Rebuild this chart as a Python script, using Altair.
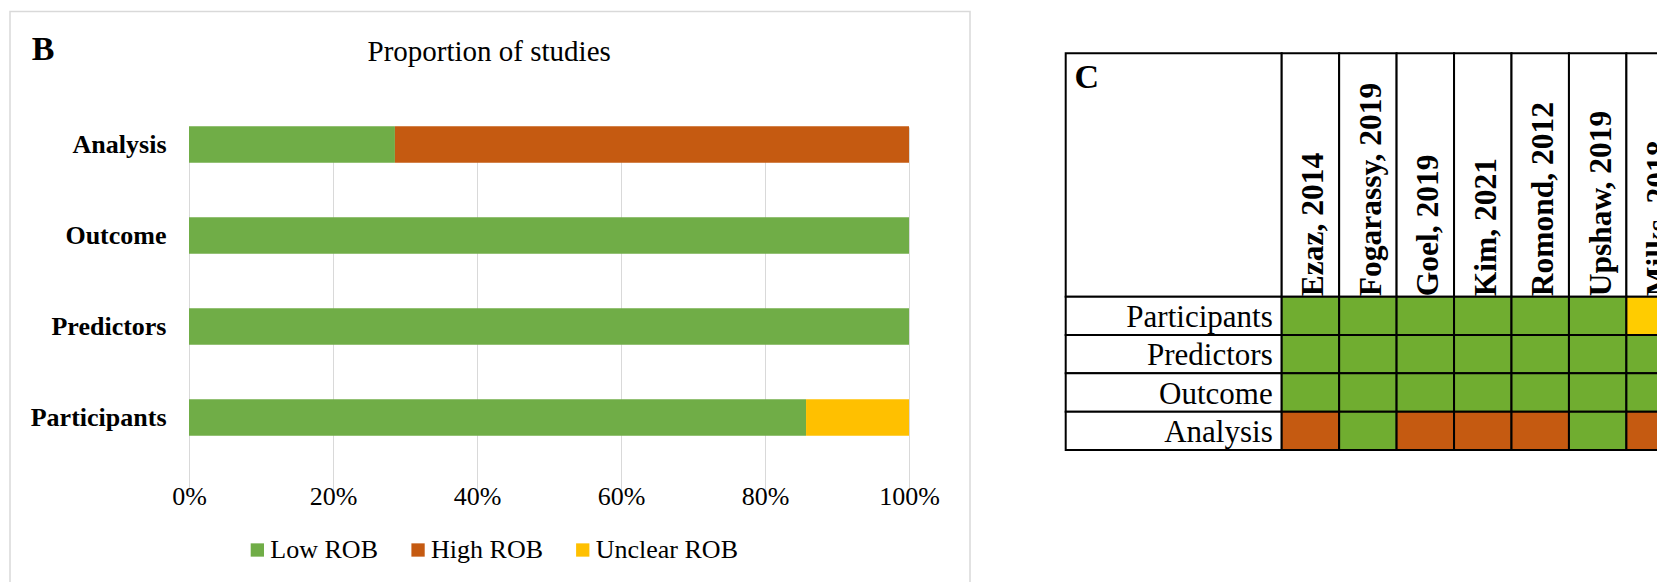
import altair as alt
import pandas as pd

SERIF = "Liberation Serif"

# ---------------- Panel B : proportion of studies ----------------
b_domains = ["Analysis", "Outcome", "Predictors", "Participants"]
rob_levels = ["Low ROB", "High ROB", "Unclear ROB"]
b_low = [0.286, 1.0, 1.0, 0.857]
b_high = [0.714, 0.0, 0.0, 0.0]
b_unclear = [0.0, 0.0, 0.0, 0.143]
x_ticks = [0, 0.2, 0.4, 0.6, 0.8, 1.0]
b_colors = ["#70AD47", "#C55A11", "#FFC000"]

# ---------------- Panel C : per-study table ----------------
studies = ["Ezaz, 2014", "Fogarassy, 2019", "Goel, 2019", "Kim, 2021",
           "Romond, 2012", "Upshaw, 2019", "Milks, 2018"]
c_rows = ["Participants", "Predictors", "Outcome", "Analysis"]
c_participants = ["Low ROB", "Low ROB", "Low ROB", "Low ROB", "Low ROB", "Low ROB", "Unclear ROB"]
c_predictors = ["Low ROB", "Low ROB", "Low ROB", "Low ROB", "Low ROB", "Low ROB", "Low ROB"]
c_outcome = ["Low ROB", "Low ROB", "Low ROB", "Low ROB", "Low ROB", "Low ROB", "Low ROB"]
c_analysis = ["High ROB", "Low ROB", "High ROB", "High ROB", "High ROB", "Low ROB", "High ROB"]
c_colors = ["#70AD30", "#C55A11", "#FFCC00"]

panel_letters = ["B", "C"]
b_title = ["Proportion of studies"]

# ---------------- tables built from the arrays ----------------
b_rows = []
for i, d in enumerate(b_domains):
    for k, (lvl, vals) in enumerate(zip(rob_levels, [b_low, b_high, b_unclear])):
        if vals[i] > 0:
            b_rows.append({"domain": d, "rating": lvl, "value": vals[i], "order": k})
b_df = pd.DataFrame(b_rows)

c_data = {"Participants": c_participants, "Predictors": c_predictors,
          "Outcome": c_outcome, "Analysis": c_analysis}
c_df = pd.DataFrame([{"row": r, "study": s, "rating": c_data[r][j]}
                     for r in c_rows for j, s in enumerate(studies)])

W, H = 1649, 574

# ---------------- panel B layers ----------------
frame = alt.Chart(pd.DataFrame({"k": [0]})).mark_rect(
    fillOpacity=0, stroke="#d9d9d9", strokeWidth=1.5
).encode(x=alt.value(2), x2=alt.value(962), y=alt.value(3.5), y2=alt.value(640))

b_letter = alt.Chart(pd.DataFrame({"t": [panel_letters[0]]})).mark_text(
    font=SERIF, fontSize=34, fontWeight="bold", align="left", baseline="alphabetic", color="black"
).encode(text="t:N", x=alt.value(23.8), y=alt.value(52))

b_title_text = alt.Chart(pd.DataFrame({"t": b_title})).mark_text(
    font=SERIF, fontSize=29, align="center", baseline="alphabetic", color="black"
).encode(text="t:N", x=alt.value(481.2), y=alt.value(52.7))

bars = alt.Chart(b_df).mark_bar().encode(
    x=alt.X("value:Q", stack="zero",
            scale=alt.Scale(domain=[0, 1], range=[181, 901], nice=False, zero=True),
            axis=alt.Axis(orient="bottom", offset=-119, values=x_ticks, format="%",
                          grid=True, gridColor="#d9d9d9", gridWidth=1,
                          domain=False, ticks=False, tickSize=0, labelPadding=20,
                          labelFont=SERIF, labelFontSize=26, labelColor="black",
                          labelFlush=False, labelOverlap=False, labelBound=False, title=None)),
    y=alt.Y("domain:N",
            scale=alt.Scale(type="band", domain=b_domains, range=[91, 455],
                            paddingInner=0.6, paddingOuter=0.3),
            axis=alt.Axis(orient="left", offset=-181, domain=False, ticks=False, tickSize=0,
                          grid=False, labelPadding=23, labelFont=SERIF, labelFontSize=26,
                          labelFontWeight="bold", labelColor="black", labelLimit=0, title=None)),
    color=alt.Color("rating:N", scale=alt.Scale(domain=rob_levels, range=b_colors),
                    legend=alt.Legend(orient="none", legendX=235.6, legendY=529,
                                      direction="horizontal", title=None, symbolType="square",
                                      symbolSize=177, symbolStrokeWidth=0, symbolOffset=0.75,
                                      labelFont=SERIF, labelFontSize=26, labelColor="black",
                                      labelOffset=0, columnPadding=25.7, padding=0, labelLimit=0)),
    order=alt.Order("order:Q"),
)

# ---------------- panel C layers ----------------
def c_x_scale():
    return alt.Scale(type="band", domain=studies, range=[1273.7, 1675.85], paddingInner=0, paddingOuter=0)

def c_y_scale():
    return alt.Scale(type="band", domain=c_rows, range=[288.7, 442], paddingInner=0, paddingOuter=0)

c_corner = alt.Chart(pd.DataFrame({"k": [0]})).mark_rect(
    fill="white", stroke="black", strokeWidth=2
).encode(x=alt.value(1057.7), x2=alt.value(1273.7), y=alt.value(45.3), y2=alt.value(288.7))

c_label_cells = alt.Chart(pd.DataFrame({"row": c_rows})).mark_rect(
    fill="white", stroke="black", strokeWidth=2
).encode(y=alt.Y("row:N", scale=c_y_scale(), axis=None),
         x=alt.value(1057.7), x2=alt.value(1273.7))

c_header_cells = alt.Chart(pd.DataFrame({"study": studies})).mark_rect(
    fill="white", stroke="black", strokeWidth=2
).encode(x=alt.X("study:N", scale=c_x_scale(), axis=None),
         y=alt.value(45.3), y2=alt.value(288.7))

c_cells = alt.Chart(c_df).mark_rect(stroke="black", strokeWidth=2).encode(
    x=alt.X("study:N", scale=c_x_scale(),
            axis=alt.Axis(orient="top", offset=-288.7, labelAngle=270, labelAlign="left",
                          labelBaseline="middle", labelOffset=4, labelPadding=1,
                          labelFont=SERIF, labelFontSize=31.5, labelFontWeight="bold",
                          labelColor="black", labelLimit=0, labelOverlap=False,
                          domain=False, ticks=False, tickSize=0, grid=False, title=None, zindex=2)),
    y=alt.Y("row:N", scale=c_y_scale(),
            axis=alt.Axis(orient="left", offset=-1273.7, labelAlign="right",
                          labelBaseline="middle", labelOffset=2, labelPadding=9.5,
                          labelFont=SERIF, labelFontSize=31, labelFontWeight="normal",
                          labelColor="black", labelLimit=0, labelOverlap=False,
                          domain=False, ticks=False, tickSize=0, grid=False, title=None, zindex=2)),
    color=alt.Color("rating:N", scale=alt.Scale(domain=rob_levels, range=c_colors), legend=None),
)

c_letter = alt.Chart(pd.DataFrame({"t": [panel_letters[1]]})).mark_text(
    font=SERIF, fontSize=34, fontWeight="bold", align="left", baseline="alphabetic", color="black"
).encode(text="t:N", x=alt.value(1066.5), y=alt.value(80))

chart = alt.layer(
    frame, b_letter, b_title_text, bars,
    c_corner, c_label_cells, c_header_cells, c_cells, c_letter
).resolve_scale(
    x="independent", y="independent", color="independent"
).properties(
    width=W, height=H, padding=0,
    autosize=alt.AutoSizeParams(type="none"),
    background="white",
).configure_view(stroke=None)

chart.save("out.html", embed_options={"renderer": "svg", "actions": False})
